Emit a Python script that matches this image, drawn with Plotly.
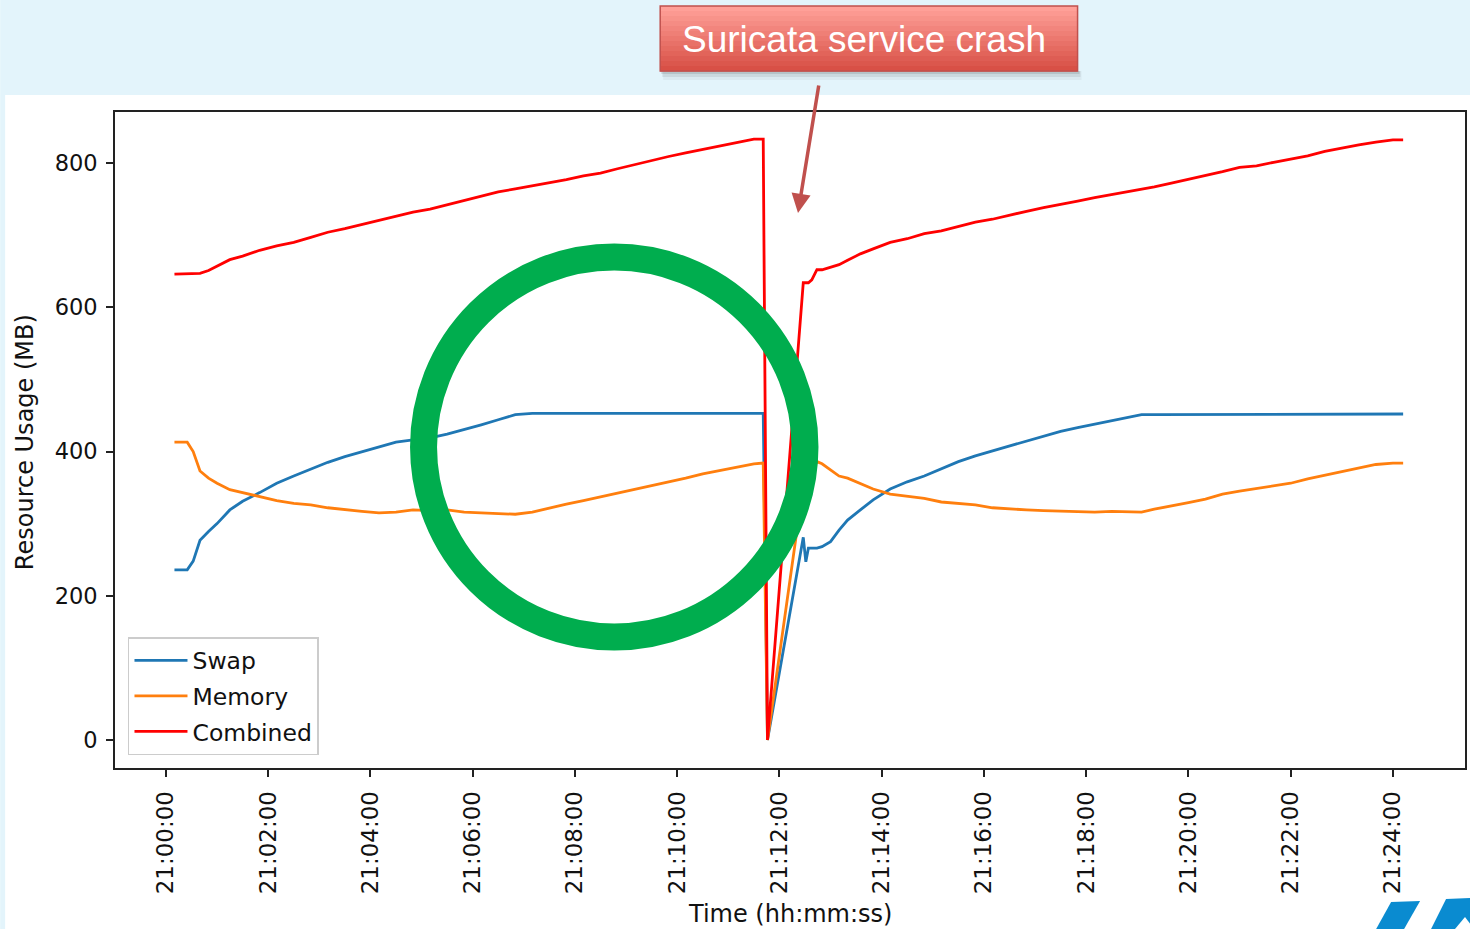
import plotly.graph_objects as go
import pandas as pd

# ---------------- data ----------------
seconds = [10, 25, 32, 40, 50, 60, 75, 90, 110, 130, 150, 170, 190, 210, 230, 250, 270, 290, 310, 330,
           350, 370, 390, 410, 430, 450, 470, 490, 510, 530, 550, 570, 590, 610, 630, 650, 670, 690, 701, 706,
           748, 751, 754, 758, 764, 770, 780, 790, 800, 815, 830,
           850, 870, 890, 910, 930, 950, 970, 990, 1010, 1030, 1050, 1070, 1090, 1110, 1130,
           1145,
           1160, 1180, 1200, 1220, 1240, 1260, 1280, 1300, 1320, 1340, 1360, 1380, 1400, 1420, 1440,
           1452]

swap = [236, 236, 248, 277, 289, 300, 319, 331, 343, 356, 366, 376, 385, 393, 400, 407, 413, 416, 419, 424,
        430, 437, 444, 451, 453, 453, 453, 453, 453, 453, 453, 453, 453, 453, 453, 453, 453, 453, 453, 0,
        281, 247, 266, 266, 266, 268, 275, 291, 305, 319, 333,
        348, 358, 366, 376, 386, 394, 401, 408, 415, 421, 428, 433, 438, 442, 448,
        451,
        451, 451, 451, 451, 451, 451, 451, 451, 451, 451, 451, 451, 451, 452, 452,
        452]

memory = [413, 413, 400, 373, 363, 356, 347, 343, 338, 332, 328, 326, 322, 319, 317, 315, 316, 319, 318, 319,
          316, 315, 314, 313, 316, 322, 327, 332, 337, 342, 347, 352, 357, 363, 369, 374, 379, 383, 384, 0,
          353, 387, 368, 375, 386, 383, 374, 366, 363, 356, 348,
          341, 338, 335, 330, 328, 326, 322, 320, 319, 318, 317, 317, 316, 317, 317,
          316,
          320, 324, 329, 334, 341, 345, 349, 353, 356, 362, 367, 373, 377, 382, 384,
          384]

combined = [646, 646, 646, 647, 651, 657, 666, 671, 679, 685, 690, 697, 704, 709, 715, 721, 727, 732, 736, 742,
            749, 754, 760, 764, 768, 773, 777, 782, 786, 792, 798, 804, 809, 814, 819, 824, 828, 833, 833, 0,
            634, 634, 634, 638, 652, 652, 655, 659, 665, 674, 681,
            690, 695, 702, 706, 712, 718, 722, 728, 733, 738, 742, 747, 752, 756, 760,
            764,
            767, 772, 777, 782, 788, 794, 796, 801, 805, 810, 816, 821, 825, 829, 832,
            832]

series_names = ["Swap", "Memory", "Combined"]
series_colors = ["#1f77b4", "#ff7f0e", "#ff0000"]
y_ticks = [0, 200, 400, 600, 800]
x_title = "Time (hh:mm:ss)"
y_title = "Resource Usage (MB)"
callout_text = "Suricata service crash"

base = pd.Timestamp("2022-01-01 21:00:00")
times = [base + pd.Timedelta(seconds=s) for s in seconds]

# ---------------- geometry ----------------
FW, FH = 1472, 929
L, R, T, B = 115, 1467, 112, 768


def px(X):
    return (X - L) / (R - L)


def py(Y):
    return (B - Y) / (B - T)


fig = go.Figure()
for name, vals, col in zip(series_names, [swap, memory, combined], series_colors):
    fig.add_trace(go.Scatter(x=times, y=vals, mode="lines", name=name, legendgroup=name,
                             line=dict(color=col, width=2.8)))

font_main = "DejaVu Sans"
shapes = []
# slide background band (top) and thin left strip
shapes.append(dict(type="rect", xref="paper", yref="paper", x0=px(0), x1=px(FW), y0=py(0), y1=py(95),
                   fillcolor="#E3F4FB", line=dict(width=0), layer="below"))
shapes.append(dict(type="rect", xref="paper", yref="paper", x0=px(0), x1=px(5), y0=py(95), y1=py(FH),
                   fillcolor="#E3F4FB", line=dict(width=0), layer="below"))

# callout shadow
for i, a in enumerate([0.10, 0.07, 0.04]):
    shapes.append(dict(type="rect", xref="paper", yref="paper", x0=px(662 + i), x1=px(1081 + i),
                       y0=py(71), y1=py(74 + 3 * i), fillcolor=f"rgba(0,0,0,{a})", line=dict(width=0)))
# callout gradient box
top_c = (255, 160, 152)
bot_c = (216, 80, 70)
nb = 13
y_top, y_bot = 6, 71
for i in range(nb):
    f = i / (nb - 1)
    c = tuple(int(round(top_c[k] + (bot_c[k] - top_c[k]) * f)) for k in range(3))
    y0 = y_top + (y_bot - y_top) * i / nb
    y1 = y_top + (y_bot - y_top) * (i + 1) / nb
    shapes.append(dict(type="rect", xref="paper", yref="paper", x0=px(661), x1=px(1079),
                       y0=py(y1 + 0.5), y1=py(y0), fillcolor=f"rgb{c}", line=dict(width=0)))
shapes.append(dict(type="rect", xref="paper", yref="paper", x0=px(661), x1=px(1079), y0=py(71), y1=py(6),
                   fillcolor="rgba(0,0,0,0)", line=dict(color="#C0504D", width=1.5)))

# green highlight circle
cx, cy, rx, ry = 615, 447, 191, 190
shapes.append(dict(type="circle", xref="paper", yref="paper", x0=px(cx - rx), x1=px(cx + rx),
                   y0=py(cy + ry), y1=py(cy - ry), line=dict(color="#00AD4E", width=27),
                   fillcolor="rgba(0,0,0,0)"))

# logo fragments bottom-right


def path(pts):
    return "M " + " L ".join(f"{px(a):.5f},{py(b):.5f}" for a, b in pts) + " Z"


shapes.append(dict(type="path", xref="paper", yref="paper",
                   path=path([(1393, 902), (1422, 901), (1406, 929), (1378, 929)]),
                   fillcolor="#0A8BD0", line=dict(width=0)))
shapes.append(dict(type="path", xref="paper", yref="paper",
                   path=path([(1448, 899), (1472, 898), (1472, 929), (1433, 929)]),
                   fillcolor="#0A8BD0", line=dict(width=0)))
shapes.append(dict(type="path", xref="paper", yref="paper",
                   path=path([(1457, 929), (1467, 917), (1476, 929)]),
                   fillcolor="#FFFFFF", line=dict(width=0)))

annotations = [
    dict(text=callout_text, xref="paper", yref="paper", x=px(865), y=py(40), xanchor="center", yanchor="middle",
         showarrow=False, font=dict(family="Liberation Sans, Arial", size=37, color="white")),
    dict(text="", xref="paper", yref="paper", x=px(799), y=py(213), ax=21, ay=-129, showarrow=True,
         arrowcolor="#C0504D", arrowwidth=3.5, arrowhead=2, arrowsize=1.1),
    dict(text=y_title, xref="paper", yref="paper", x=px(25), y=py(442), textangle=-90, showarrow=False,
         xanchor="center", yanchor="middle", font=dict(family=font_main, size=24, color="#111")),
    dict(text=x_title, xref="paper", yref="paper", x=px(791), y=py(914), showarrow=False,
         xanchor="center", yanchor="middle", font=dict(family=font_main, size=24, color="#111")),
]

x0 = base + pd.Timedelta(seconds=-59.77)
x1 = base + pd.Timedelta(seconds=1524.6)

fig.update_layout(
    width=FW, height=FH, autosize=False,
    margin=dict(l=L, r=FW - R, t=T, b=FH - B, pad=0),
    paper_bgcolor="white", plot_bgcolor="white",
    font=dict(family=font_main, size=22, color="#111"),
    shapes=shapes, annotations=annotations,
    showlegend=True,
    legend=dict(x=px(128), y=py(755), xanchor="left", yanchor="bottom", bgcolor="white",
                bordercolor="#cccccc", borderwidth=1.5, traceorder="grouped", tracegroupgap=2,
                itemwidth=53,
                font=dict(family=font_main, size=23.5, color="#111")),
    xaxis=dict(type="date", range=[x0, x1], tick0=base, dtick=120000, tickformat="%H:%M:%S",
               tickangle=-90, ticks="outside", ticklen=7, tickwidth=1.5, tickcolor="#222",
               showline=True, mirror=True, linecolor="#222", linewidth=1.6,
               showgrid=False, zeroline=False, ticklabelstandoff=5,
               tickfont=dict(family=font_main, size=23, color="#111")),
    yaxis=dict(range=[-38.8, 870.7], tickvals=y_ticks, ticks="outside", ticklen=7, tickwidth=1.5,
               tickcolor="#222", showline=True, mirror=True, linecolor="#222", linewidth=1.6,
               showgrid=False, zeroline=False, ticklabelstandoff=4,
               tickfont=dict(family=font_main, size=22.5, color="#111")),
)

fig.write_html("out.html",
               config={"displayModeBar": False},
               post_script="document.body.style.margin='0px';document.body.style.overflow='hidden';")
